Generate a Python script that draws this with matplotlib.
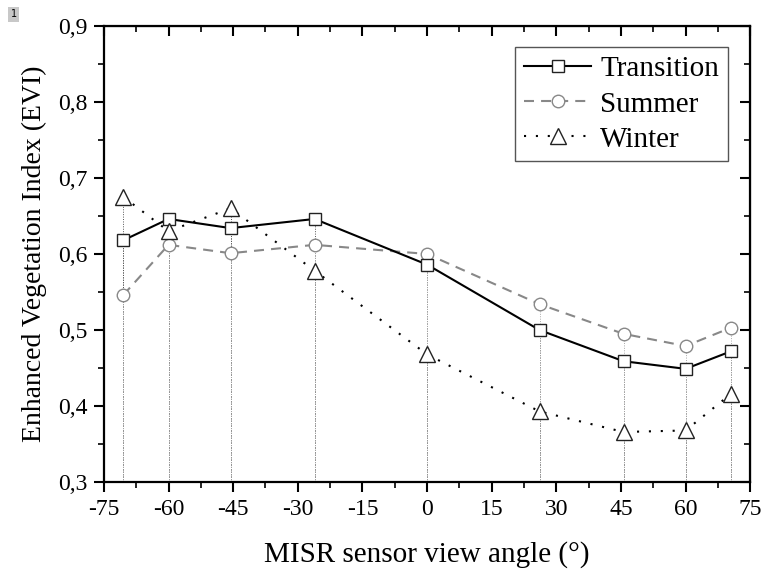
import matplotlib
matplotlib.use("Agg")
import matplotlib.pyplot as plt
from matplotlib.ticker import MultipleLocator, FuncFormatter

plt.rcParams['font.family'] = ['Liberation Serif', 'DejaVu Serif']
plt.rcParams['axes.unicode_minus'] = False

# MISR camera view angles (degrees)
angles = [-70.5, -60.0, -45.6, -26.1, 0.0, 26.1, 45.6, 60.0, 70.5]

# Enhanced Vegetation Index per season
evi_transition = [0.618, 0.646, 0.634, 0.646, 0.586, 0.500, 0.459, 0.449, 0.472]
evi_summer = [0.546, 0.612, 0.601, 0.612, 0.600, 0.534, 0.495, 0.479, 0.503]
evi_winter = [0.675, 0.630, 0.660, 0.578, 0.468, 0.393, 0.366, 0.368, 0.416]

x_ticks = [-75, -60, -45, -30, -15, 0, 15, 30, 45, 60, 75]
y_min, y_max = 0.3, 0.9

fig = plt.figure(figsize=(7.64, 5.72), dpi=100)
ax = fig.add_axes([0.136, 0.157, 0.846, 0.798])

# drop lines from each point to the bottom axis
for series, col in [(evi_winter, '#555555'), (evi_transition, '#555555'), (evi_summer, '#aaaaaa')]:
    ax.vlines(angles, y_min, series, colors=col, linestyles=(0, (1, 1.5)), linewidth=0.7, zorder=1)

ax.plot(angles, evi_transition, color='black', linestyle='-', linewidth=1.5,
        marker='s', markersize=8, markerfacecolor='white', markeredgecolor='#222222',
        markeredgewidth=1.0, label='Transition', zorder=4)
ax.plot(angles, evi_summer, color='#888888', linestyle=(0, (4.8, 3.4)), linewidth=1.5,
        marker='o', markersize=9, markerfacecolor='white', markeredgecolor='#888888',
        markeredgewidth=1.0, label='Summer', zorder=3)
ax.plot(angles, evi_winter, color='black', linestyle=(0, (1, 4.7)), linewidth=1.5,
        marker='^', markersize=12, markerfacecolor='white', markeredgecolor='#222222',
        markeredgewidth=1.0, label='Winter', zorder=5)

ax.set_xlim(-75, 75)
ax.set_ylim(y_min, y_max)
ax.set_xticks(x_ticks)
ax.xaxis.set_minor_locator(MultipleLocator(7.5))
ax.yaxis.set_major_locator(MultipleLocator(0.1))
ax.yaxis.set_minor_locator(MultipleLocator(0.05))
ax.yaxis.set_major_formatter(FuncFormatter(lambda v, p: f"{v:.1f}".replace('.', ',')))

for sp in ax.spines.values():
    sp.set_linewidth(1.6)

ax.tick_params(which='major', direction='out', length=7, width=1.5, labelsize=17, pad=5)
ax.tick_params(which='minor', direction='out', length=4, width=1.2)

# inward ticks on the top and right edges
top = ax.secondary_xaxis('top')
top.set_xticks(x_ticks)
top.xaxis.set_minor_locator(MultipleLocator(7.5))
top.tick_params(which='major', direction='in', length=7, width=1.5, labeltop=False)
top.tick_params(which='minor', direction='in', length=4, width=1.2)
right = ax.secondary_yaxis('right')
right.yaxis.set_major_locator(MultipleLocator(0.1))
right.yaxis.set_minor_locator(MultipleLocator(0.05))
right.tick_params(which='major', direction='in', length=7, width=1.5, labelright=False)
right.tick_params(which='minor', direction='in', length=4, width=1.2)

ax.set_xlabel('MISR sensor view angle (°)', fontsize=21, labelpad=15)
ax.set_ylabel('Enhanced Vegetation Index (EVI)', fontsize=20, labelpad=8)

leg = ax.legend(loc='upper right', bbox_to_anchor=(0.965, 0.953), borderaxespad=0,
                fontsize=21, fancybox=False, framealpha=1, edgecolor='#555555',
                handlelength=2.3, handletextpad=0.3, borderpad=0.3, labelspacing=0.3)
leg.get_frame().set_linewidth(1.0)

fig.text(0.018, 0.975, '1', fontsize=7, family='DejaVu Sans', va='center', ha='center',
         bbox=dict(boxstyle='square,pad=0.25', facecolor='#c8c8c8', edgecolor='none'))

fig.savefig('out.png', dpi=100)
